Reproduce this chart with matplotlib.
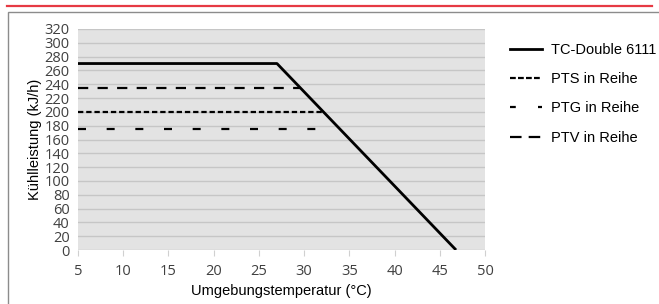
import matplotlib
matplotlib.use("Agg")
import matplotlib.pyplot as plt
from matplotlib.patches import Rectangle
from matplotlib.lines import Line2D

# data
tc_x = [5, 27, 46.8]
tc_y = [270, 270, 0]
pts_x = [5, 32]
pts_y = [200, 200]
ptg_x = [5, 32]
ptg_y = [175, 175]
ptv_x = [5, 29.5]
ptv_y = [235, 235]
labels = ["TC-Double 6111", "PTS in Reihe", "PTG in Reihe", "PTV in Reihe"]
x_ticks = list(range(5, 51, 5))
y_ticks = list(range(0, 321, 20))

W, H = 659, 304
fig = plt.figure(figsize=(W / 100, H / 100), dpi=100)

# frame decorations: red rule and gray box
fig.add_artist(Line2D([7 / W, 652 / W], [1 - 5.5 / H, 1 - 5.5 / H],
                      color="#e63a44", lw=1.6, transform=fig.transFigure))
fig.add_artist(Rectangle((8 / W, -0.1), 1.2, 1.1 - 12 / H, fill=False,
                         edgecolor="#8c8c8c", lw=1.0, transform=fig.transFigure))

ax = fig.add_axes([78 / W, 1 - 250 / H, (485 - 78) / W, (250 - 29) / H])
ax.set_facecolor("#e3e3e3")
ax.set_xlim(5, 50)
ax.set_ylim(0, 320)
ax.set_xticks(x_ticks)
ax.set_yticks(y_ticks)
ax.grid(axis="y", color="#c6c6c6", lw=1.0)
ax.set_axisbelow(True)
for s in ax.spines.values():
    s.set_visible(False)
ax.tick_params(axis="y", length=0, pad=6, labelsize=10.5, labelcolor="#404040")
ax.tick_params(axis="x", length=4, color="#d0d0d0", pad=6, labelsize=10.5,
               labelcolor="#404040")
for lab in ax.get_xticklabels() + ax.get_yticklabels():
    lab.set_family("Open Sans")

lw = 1.6
ax.plot(tc_x, tc_y, color="black", lw=2.0, solid_capstyle="butt")
ax.plot(pts_x, pts_y, color="black", lw=lw, dashes=(2.4, 1.3))
ax.plot(ptg_x, ptg_y, color="black", lw=lw, dashes=(3.6, 9.3))
ax.plot(ptv_x, ptv_y, color="black", lw=lw, dashes=(4.6, 4.2))

ax.set_xlabel("Umgebungstemperatur (°C)", family="Liberation Sans", fontsize=10.5,
              labelpad=4)
ax.set_ylabel("Kühlleistung (kJ/h)", family="Liberation Sans", fontsize=10.5,
              labelpad=2)

# legend handles drawn with the short-sample patterns seen in the reference
handles = [
    Line2D([], [], color="black", lw=2.0),
    Line2D([], [], color="black", lw=lw, dashes=(2.6, 1.0)),
    Line2D([], [], color="black", lw=lw, dashes=(2.6, 10.0)),
    Line2D([], [], color="black", lw=lw, dashes=(5.2, 3.2)),
]
ax.legend(handles, labels, loc="upper left", bbox_to_anchor=(504 / W, 1 - 37 / H),
          bbox_transform=fig.transFigure, frameon=False,
          prop={"family": "Liberation Sans", "size": 10.5},
          handlelength=2.2, handletextpad=0.6, labelspacing=1.05,
          borderaxespad=0)

fig.savefig("out.png", dpi=100)
